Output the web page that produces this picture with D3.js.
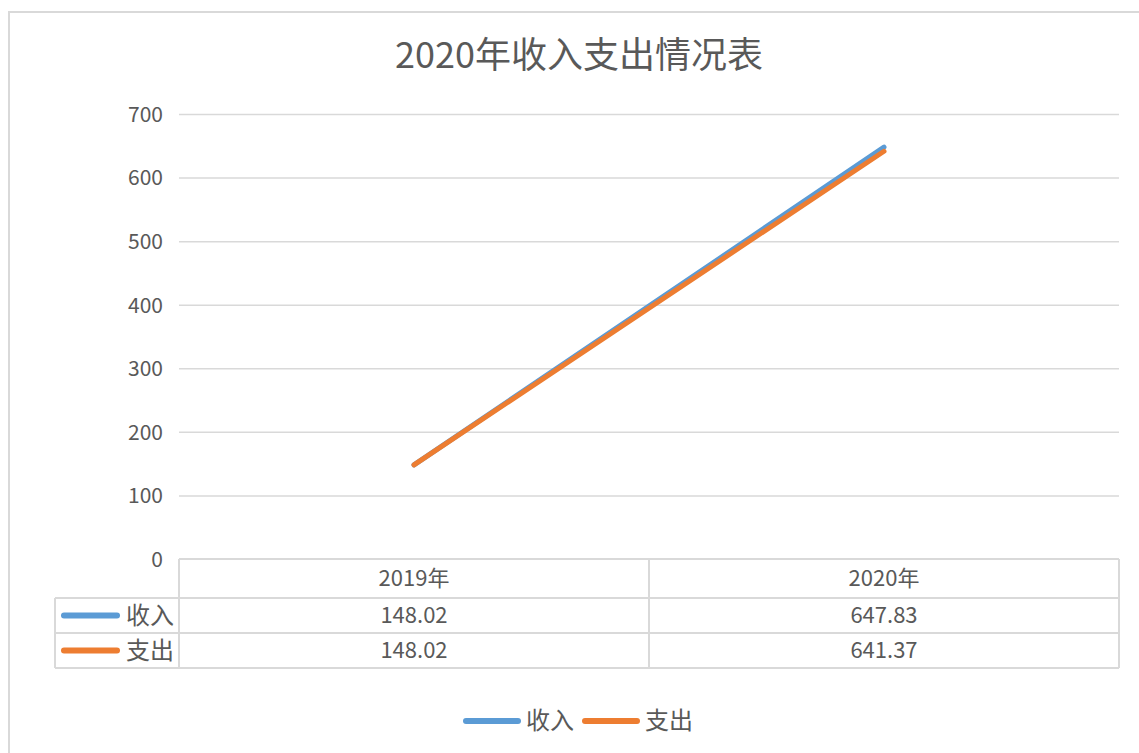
<!DOCTYPE html>
<html><head><meta charset="utf-8">
<script src="https://cdn.jsdelivr.net/npm/d3@7"></script>
<style>body{margin:0;background:#fff;} text{font-family:"Noto Sans CJK SC","Noto Sans",sans-serif;fill:#595959;}</style>
</head><body><svg id="c" width="1139" height="753"></svg>
<script>
const title = "2020年收入支出情况表";
const categories = ["2019年","2020年"];
const seriesNames = ["收入","支出"];
const income = [148.02, 647.83];
const expense = [148.02, 641.37];
const incomeLabels = ["148.02","647.83"];
const expenseLabels = ["148.02","641.37"];
const yTicks = [0,100,200,300,400,500,600,700];
const colors = ["#5b9bd5","#ed7d31"];

const svg = d3.select("#c");
svg.append("rect").attr("x",9).attr("y",12).attr("width",1200).attr("height",800)
  .attr("fill","#fff").attr("stroke","#d9d9d9").attr("stroke-width",2);

const pL=179, pR=1119, pT=114, pB=559;
const x = d3.scaleBand().domain(categories).range([pL,pR]);
const y = d3.scaleLinear().domain([0,700]).range([pB,pT]);

svg.append("text").attr("x",579).attr("y",55).attr("dy","0.35em").attr("text-anchor","middle")
  .style("font-size","36px").text(title);

// grid
const yAxis = d3.axisLeft(y).tickValues(yTicks).tickSize(-(pR-pL)).tickPadding(16);
const g = svg.append("g").attr("transform",`translate(${pL},0)`).call(yAxis);
g.select(".domain").remove();
g.selectAll(".tick line").attr("stroke","#d9d9d9").attr("stroke-width",1.5);
g.selectAll(".tick text").style("font-size","21px").style("fill","#595959")
  .style("font-family","'Noto Sans CJK SC','Noto Sans',sans-serif").attr("dy","0.35em");
g.selectAll(".tick").filter(d=>d===0).select("line").remove();

// lines
const series = [income, expense];
series.forEach((vals,i)=>{
  const line = d3.line().x((d,j)=>x(categories[j])+x.bandwidth()/2).y(d=>y(d));
  svg.append("path").attr("d",line(vals)).attr("fill","none").attr("stroke",colors[i])
    .attr("stroke-width",5).attr("stroke-linecap","round");
});

// data table
const rowY = [559,598,633,668];
const tcol = "#d9d9d9";
const tbl = svg.append("g");
tbl.append("line").attr("x1",pL).attr("x2",pR).attr("y1",rowY[0]).attr("y2",rowY[0]).attr("stroke",tcol).attr("stroke-width",2);
[1,2,3].forEach(k=>tbl.append("line").attr("x1",55).attr("x2",pR).attr("y1",rowY[k]).attr("y2",rowY[k]).attr("stroke",tcol).attr("stroke-width",2));
tbl.append("line").attr("x1",55).attr("x2",55).attr("y1",rowY[1]).attr("y2",rowY[3]).attr("stroke",tcol).attr("stroke-width",2);
[pL, pL+x.bandwidth(), pR].forEach(xx=>tbl.append("line").attr("x1",xx).attr("x2",xx).attr("y1",rowY[0]).attr("y2",rowY[3]).attr("stroke",tcol).attr("stroke-width",2));
categories.forEach(c=>{
  tbl.append("text").attr("x",x(c)+x.bandwidth()/2).attr("y",(rowY[0]+rowY[1])/2).attr("dy","0.35em")
    .attr("text-anchor","middle").style("font-size","22px").text(c);
});
const rowLabels=[incomeLabels, expenseLabels];
rowLabels.forEach((labs,i)=>{
  const cy=(rowY[i+1]+rowY[i+2])/2;
  tbl.append("line").attr("x1",64).attr("x2",117).attr("y1",cy).attr("y2",cy)
    .attr("stroke",colors[i]).attr("stroke-width",6).attr("stroke-linecap","round");
  tbl.append("text").attr("x",126).attr("y",cy).attr("dy","0.35em").style("font-size","24px").text(seriesNames[i]);
  labs.forEach((l,j)=>{
    tbl.append("text").attr("x",x(categories[j])+x.bandwidth()/2).attr("y",cy).attr("dy","0.35em")
      .attr("text-anchor","middle").style("font-size","22px").text(l);
  });
});

// legend
const legX=[466,585];
seriesNames.forEach((n,i)=>{
  svg.append("line").attr("x1",legX[i]).attr("x2",legX[i]+52).attr("y1",721).attr("y2",721)
    .attr("stroke",colors[i]).attr("stroke-width",6).attr("stroke-linecap","round");
  svg.append("text").attr("x",legX[i]+60).attr("y",721).attr("dy","0.35em").style("font-size","24px").text(n);
});
</script></body></html>
